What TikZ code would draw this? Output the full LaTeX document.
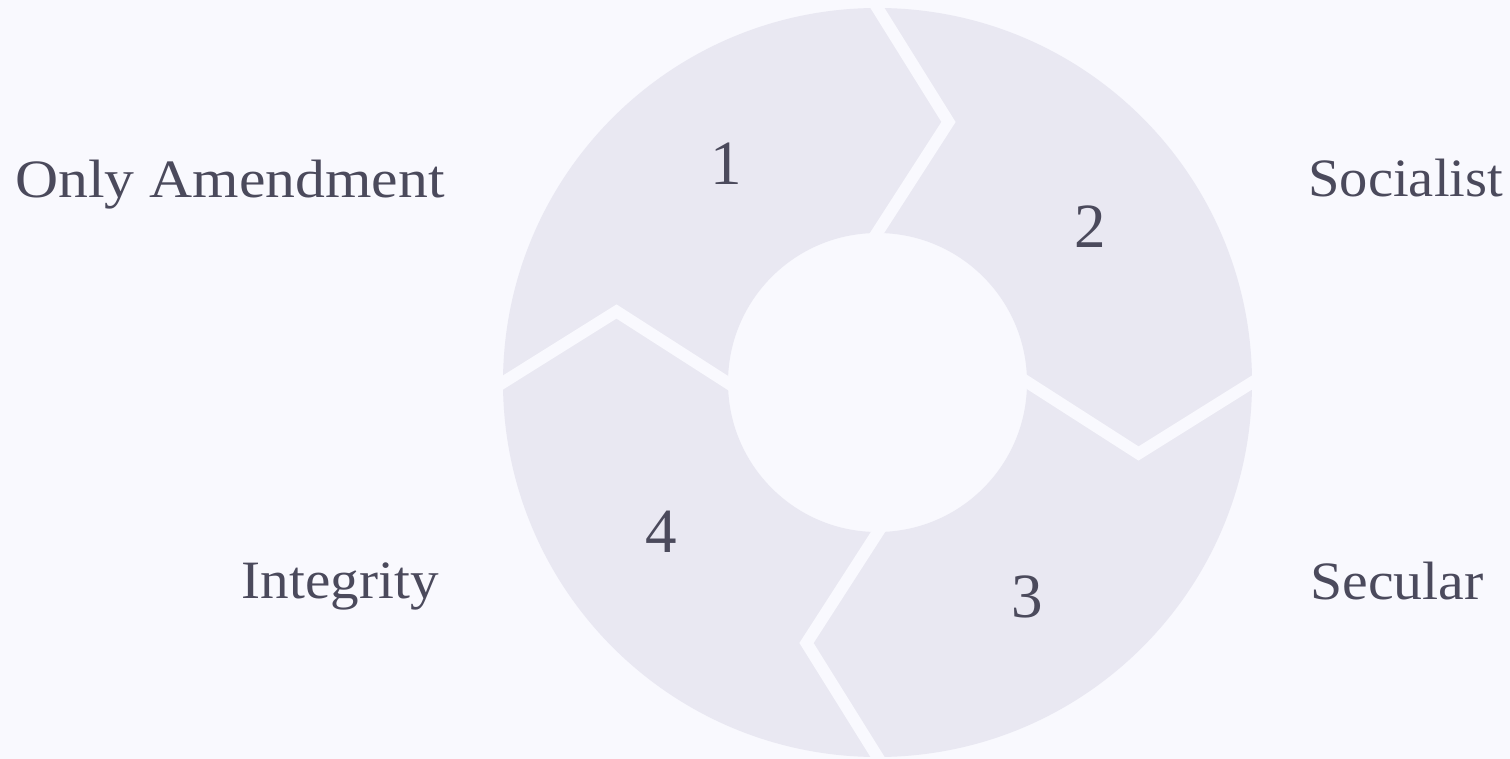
\documentclass[tikz,border=0pt]{standalone}
\usepackage{fontspec}
\setmainfont{Liberation Serif}
\newfontfamily\labfontA[FakeStretch=1.105]{Liberation Serif}
\newfontfamily\labfontB[FakeStretch=1.047]{Liberation Serif}
\newfontfamily\labfontC[FakeStretch=1.058]{Liberation Serif}
\newfontfamily\labfontD[FakeStretch=1.07]{Liberation Serif}
\definecolor{bgcol}{HTML}{F9F9FE}
\definecolor{ringcol}{HTML}{E9E8F2}
\definecolor{txtcol}{HTML}{4B4A5C}
\tikzset{
  lab/.style={text=txtcol, font=#1\fontsize{27}{30}\selectfont, inner sep=0pt},
  num/.style={text=txtcol, font=\fontsize{31.5}{34}\selectfont, inner sep=0pt, anchor=base},
  sep/.style={draw=bgcol, line width=6pt, line join=miter}
}
\begin{document}
\begin{tikzpicture}[x=0.5pt,y=-0.5pt]
\useasboundingbox (0,0) rectangle (1510,759);
\fill[bgcol] (0,0) rectangle (1510,759);
\coordinate (c) at (877.5,382.5);
\fill[ringcol, even odd rule] (c) circle[radius=374.5] (c) circle[radius=149.5];
% separators (chevrons)
\coordinate (t1) at (860,-20); \coordinate (t2) at (948.5,122); \coordinate (t3) at (868,247);
\coordinate (r1) at (1280,365); \coordinate (r2) at (1138.5,453.5); \coordinate (r3) at (1013,373);
\coordinate (b1) at (895,785); \coordinate (b2) at (806.5,643); \coordinate (b3) at (887,518);
\coordinate (l1) at (475,400); \coordinate (l2) at (616.5,311.5); \coordinate (l3) at (742,392);
\draw[sep] (t1) -- (t2) -- (t3);
\draw[sep] (r1) -- (r2) -- (r3);
\draw[sep] (b1) -- (b2) -- (b3);
\draw[sep] (l1) -- (l2) -- (l3);
% labels
\node[lab=\labfontA, anchor=base east] (only) at (445,198) {Only Amendment};
\node[lab=\labfontB, anchor=base west] (soc) at (1308,197) {Socialist};
\node[lab=\labfontC, anchor=base east] (integ) at (439,598) {Integrity};
\node[lab=\labfontD, anchor=base west] (sec) at (1310,599) {Secular};
% numbers
\node[num] (n1) at (726,185) {1};
\node[num] (n2) at (1090,248) {2};
\node[num] (n3) at (1027,617) {3};
\node[num] (n4) at (661,552) {4};
\end{tikzpicture}
\end{document}
